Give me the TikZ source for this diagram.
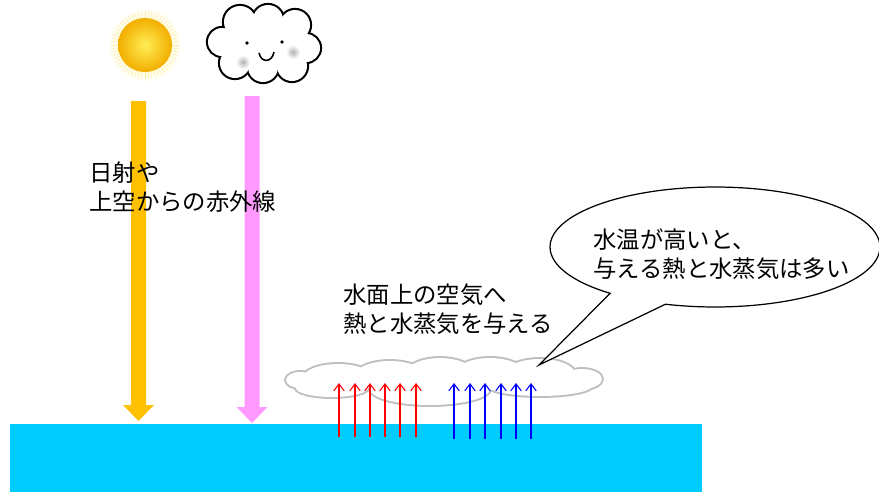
\documentclass[tikz,border=0pt]{standalone}
\usepackage{fontspec}
\newfontfamily\jp{Noto Sans CJK JP}
\usepackage{tikz}
\usetikzlibrary{arrows.meta,shapes.callouts,positioning}

\definecolor{sunlight}{HTML}{FFEE55}
\definecolor{sunedge}{HTML}{F2AE00}
\definecolor{sunray}{HTML}{FFC000}
\definecolor{skyray}{HTML}{FF99FF}
\definecolor{water}{HTML}{00CCFF}
\definecolor{mist}{HTML}{BFBFBF}

\begin{document}
\begin{tikzpicture}[x=0.02cm, y=-0.02cm,
    txt/.style={font=\jp\fontsize{13.3}{17}\selectfont, align=left, anchor=north west, inner sep=0pt},
    rise/.style={line width=0.6pt, -{Straight Barb[length=4pt,width=6pt]}},
    bubble/.style={ellipse callout, draw, fill=white, line width=0.7pt,
        minimum width=6.6cm, minimum height=2.4cm, callout pointer arc=22}
]
    \useasboundingbox (0,0) rectangle (879,494);

    % sun with a soft halo
    \shade[inner color=yellow!35, outer color=white] (145,45) circle[radius=38];
    \foreach \a in {0,6,...,354}
        \draw[sunray!35, line width=0.3pt, shift={(145,45)}] (\a:26) -- (\a:34);
    \shade[inner color=sunlight, outer color=sunedge] (145,45) circle[radius=27];

    % smiling cloud: outlines first, then white fill hides the inner arcs
    \foreach \cx/\cy/\r in {222/42/14, 240/22/16, 268/20/15, 295/25/15, 306/48/14, 292/66/15, 263/67/15, 235/63/15}
        \draw[line width=2.4pt] (\cx,\cy) circle[radius=\r];
    \foreach \cx/\cy/\r in {222/42/14, 240/22/16, 268/20/15, 295/25/15, 306/48/14, 292/66/15, 263/67/15, 235/63/15}
        \fill[white] (\cx,\cy) circle[radius=\r];
    \fill[white] (264,44) ellipse[x radius=40, y radius=26];
    \shade[inner color=black!30, outer color=white] (243,62) circle[radius=7];
    \shade[inner color=black!30, outer color=white] (293,52) circle[radius=7];
    \fill (247,43) circle[radius=1.8];
    \fill (282,42) circle[radius=1.8];
    \draw[line width=0.9pt] (259,53) .. controls (261,63) and (272,63) .. (274,52);

    % incoming radiation
    \foreach \x/\top/\tip/\col in {138.5/101/421/sunray, 252/96/423/skyray}
        \fill[\col] ({\x-7.5},\top) -- ({\x+7.5},\top) -- ({\x+7.5},\tip-16) -- ({\x+15.5},\tip-16)
            -- (\x,\tip) -- ({\x-15.5},\tip-16) -- ({\x-7.5},\tip-16) -- cycle;

    % water
    \fill[water] (10,424) rectangle (702,492);

    % air layer above the water
    \foreach \cx/\cy/\rx/\ry in {300/380/14/8, 338/378/35/14, 390/376/35/15, 440/375/35/17, 490/374/35/16,
                                 540/374/35/15, 582/379/20/10, 430/389/60/16, 332/388/36/9, 540/386/52/10}
        \draw[mist, line width=2.2pt] (\cx,\cy) ellipse[x radius=\rx, y radius=\ry];
    \foreach \cx/\cy/\rx/\ry in {300/380/14/8, 338/378/35/14, 390/376/35/15, 440/375/35/17, 490/374/35/16,
                                 540/374/35/15, 582/379/20/10, 430/389/60/16, 332/388/36/9, 540/386/52/10}
        \fill[white] (\cx,\cy) ellipse[x radius=\rx, y radius=\ry];

    % heat and vapour going up
    \foreach \x in {339,355,370,385,400,416}
        \draw[rise, red] (\x,437) -- (\x,383);
    \foreach \x in {454,470,485,501,516,531}
        \draw[rise, blue] (\x,439) -- (\x,383);

    \node[txt] (rays) at (89,161) {日射や\\上空からの赤外線};
    \node[txt] (air) at (343,283) {水面上の空気へ\\熱と水蒸気を与える};

    \coordinate (tip) at (539,365);
    \node[bubble, callout absolute pointer={(tip)}] (note) at (715,247) {};
    \node[txt] (notetext) at (593,228) {水温が高いと、\\与える熱と水蒸気は多い};
\end{tikzpicture}
\end{document}
